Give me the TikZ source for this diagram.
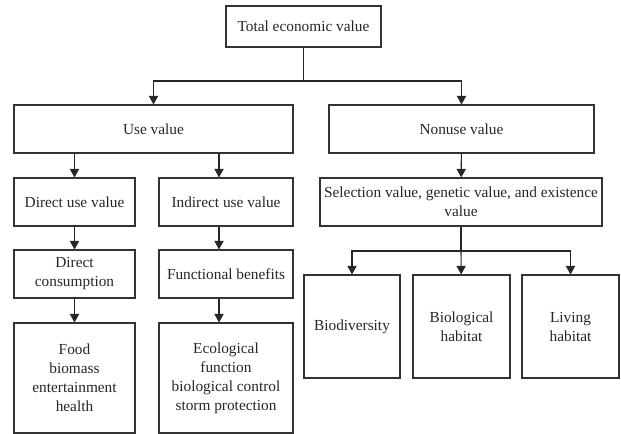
\documentclass[tikz,border=0pt]{standalone}
\usepackage{fontspec}
\setmainfont{Liberation Serif}
\usetikzlibrary{arrows.meta}
\begin{document}
\begin{tikzpicture}[x=0.75pt,y=-0.75pt,
  box/.style={draw=black!80, line width=0.8pt, align=center, inner sep=2pt,
    font=\fontsize{11.5}{14.25}\selectfont, text=black!85},
  arr/.style={draw=black!85, line width=0.8pt, -{Triangle[width=7pt,length=6.5pt]}},
  link/.style={draw=black!85, line width=0.8pt}]
\useasboundingbox (0,0) rectangle (621,434);

% top level
\node[box, minimum width=155*0.75pt, minimum height=41*0.75pt] (tev) at (303.5,26.5) {Total economic value};

% second level
\node[box, minimum width=279*0.75pt, minimum height=48*0.75pt] (use) at (153.5,129) {Use value};
\node[box, minimum width=265*0.75pt, minimum height=48*0.75pt] (non) at (461.5,129) {Nonuse value};

% use-value branch
\node[box, minimum width=121*0.75pt, minimum height=48*0.75pt] (duv) at (74.5,202) {Direct use value};
\node[box, minimum width=134*0.75pt, minimum height=48*0.75pt] (iuv) at (226,202) {Indirect use value};
\node[box, minimum width=121*0.75pt, minimum height=48*0.75pt] (dc) at (74.5,274) {Direct\\consumption};
\node[box, minimum width=134*0.75pt, minimum height=48*0.75pt] (fb) at (226,274) {Functional benefits};
\node[box, minimum width=121*0.75pt, minimum height=110*0.75pt] (food) at (74.5,378) {Food\\biomass\\entertainment\\health};
\node[box, minimum width=134*0.75pt, minimum height=110*0.75pt] (eco) at (226,378) {Ecological\\function\\biological control\\storm protection};

% nonuse-value branch
\node[box, minimum width=282*0.75pt, minimum height=48*0.75pt] (sel) at (461,202) {Selection value, genetic value, and existence\\value};
\node[box, minimum width=96*0.75pt, minimum height=103*0.75pt] (bio) at (352,326.5) {Biodiversity};
\node[box, minimum width=97*0.75pt, minimum height=103*0.75pt] (bh) at (461.5,326.5) {Biological\\habitat};
\node[box, minimum width=97*0.75pt, minimum height=103*0.75pt] (lh) at (570.5,326.5) {Living\\habitat};

% junctions
\coordinate (j1) at (303.5,81);
\coordinate (j2) at (461,251);

% connectors
\draw[link] (tev) -- (j1);
\draw[arr] (j1) -| (use);
\draw[arr] (j1) -| (non);

\draw[arr] (duv.north |- use.south) -- (duv);
\draw[arr] ([xshift=-5.25pt]iuv.north |- use.south) -- ([xshift=-5.25pt]iuv.north);
\draw[arr] (duv) -- (dc);
\draw[arr] ([xshift=-5.25pt]iuv.south) -- ([xshift=-5.25pt]fb.north);
\draw[arr] (dc) -- (food);
\draw[arr] ([xshift=-5.25pt]fb.south) -- ([xshift=-5.25pt]eco.north);

\draw[arr] (non) -- (sel);
\draw[link] (sel) -- (j2);
\draw[arr] (j2) -| (bio);
\draw[arr] (j2) -- (bh);
\draw[arr] (j2) -| (lh);
\end{tikzpicture}
\end{document}
